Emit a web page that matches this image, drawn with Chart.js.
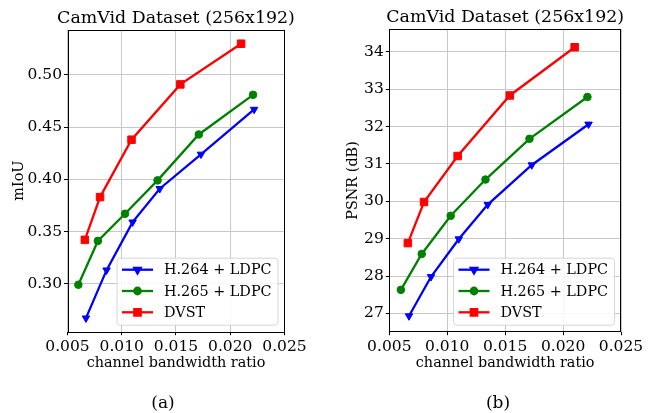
<!DOCTYPE html>
<html>
<head>
<meta charset="utf-8">
<script src="https://cdn.jsdelivr.net/npm/chart.js@4.4.1/dist/chart.umd.min.js"></script>
<style>
  body { margin: 0; background: #fff; }
  #page { position: relative; width: 649px; height: 413px; overflow: hidden; font-family: "DejaVu Serif", serif; }
  .panel { position: absolute; top: 0; height: 413px; }
  .cap { position: absolute; top: 391px; font-size: 17px; line-height: 22px; color: #000; transform: translateX(-50%); }
</style>
</head>
<body>
<div id="page">
  <div class="panel" style="left:0;width:325px"><canvas id="chartA"></canvas></div>
  <div class="panel" style="left:325px;width:324px"><canvas id="chartB"></canvas></div>
  <div class="cap" style="left:163px">(a)</div>
  <div class="cap" style="left:498px">(b)</div>
</div>
<script>
// channel bandwidth ratio (shared by both panels)
const h264Bw = [0.0067, 0.0086, 0.0110, 0.0135, 0.0173, 0.0222];
const h265Bw = [0.0060, 0.0078, 0.0103, 0.0133, 0.0171, 0.0221];
const dvstBw = [0.0066, 0.0080, 0.0109, 0.0154, 0.0210];

// (a) mIoU
const h264Miou = [0.267, 0.313, 0.359, 0.391, 0.424, 0.467];
const h265Miou = [0.299, 0.341, 0.367, 0.399, 0.443, 0.481];
const dvstMiou = [0.342, 0.383, 0.438, 0.491, 0.530];

// (b) PSNR (dB)
const h264Psnr = [26.93, 27.98, 28.99, 29.91, 30.97, 32.06];
const h265Psnr = [27.63, 28.59, 29.61, 30.58, 31.67, 32.79];
const dvstPsnr = [28.88, 29.98, 31.21, 32.83, 34.12];

const seriesLabels = ["H.264 + LDPC", "H.265 + LDPC", "DVST"];
const panelTitle = "CamVid Dataset (256x192)";
const FONT = "'DejaVu Serif', serif";

const toPoints = (xs, ys) => xs.map((x, i) => ({ x: x, y: ys[i] }));

// title centred over the plot (the built-in one squeezes text to the plot width)
const plotTitle = {
  id: "plotTitle",
  afterDraw(chart, args, opts) {
    const { left, right, top } = chart.chartArea;
    const ctx = chart.ctx;
    ctx.save();
    ctx.fillStyle = "#000";
    ctx.font = opts.size + "px " + FONT;
    ctx.textAlign = "center";
    ctx.textBaseline = "middle";
    ctx.fillText(opts.text, (left + right) / 2, top - opts.gap);
    ctx.restore();
  }
};

// box around the plot, matplotlib style
const frame = {
  id: "frame",
  afterDatasetsDraw(chart) {
    const { left, top, right, bottom } = chart.chartArea;
    const ctx = chart.ctx;
    ctx.save();
    ctx.strokeStyle = "#000";
    ctx.lineWidth = 1;
    ctx.strokeRect(Math.round(left) + 0.5, Math.round(top) + 0.5,
      Math.round(right - left) - 1, Math.round(bottom - top));
    ctx.restore();
  }
};

// legend inside the lower right corner of the plot
const boxLegend = {
  id: "boxLegend",
  afterDraw(chart, args, opts) {
    const ctx = chart.ctx;
    const { right, bottom } = chart.chartArea;
    const x0 = right - opts.offset - opts.width;
    const y0 = bottom - opts.offset - opts.height;
    ctx.save();
    ctx.beginPath();
    ctx.roundRect(x0 + 0.5, y0 + 0.5, opts.width, opts.height, 3);
    ctx.fillStyle = "rgba(255,255,255,0.85)";
    ctx.fill();
    ctx.strokeStyle = "#d6d6d6";
    ctx.lineWidth = 1;
    ctx.stroke();
    chart.data.datasets.forEach((ds, i) => {
      const y = y0 + 12 + i * 21.3;
      ctx.strokeStyle = ds.borderColor;
      ctx.lineWidth = ds.borderWidth;
      ctx.beginPath();
      ctx.moveTo(x0 + 5.5, y);
      ctx.lineTo(x0 + 36.5, y);
      ctx.stroke();
      ctx.fillStyle = ds.pointBackgroundColor;
      ctx.strokeStyle = ds.pointBackgroundColor;
      Chart.helpers.drawPoint(ctx, {
        pointStyle: ds.pointStyle,
        rotation: ds.pointRotation || 0,
        radius: ds.pointRadius * 0.85,
        borderWidth: 1
      }, x0 + 21, y);
      ctx.fillStyle = "#000";
      ctx.font = "14.4px " + FONT;
      ctx.textBaseline = "middle";
      ctx.textAlign = "left";
      ctx.fillText(ds.label, x0 + 47.5, y + 1);
    });
    ctx.restore();
  }
};

function makeSeries(label, color, style, radius, rotation, points) {
  return {
    label: label,
    data: points,
    showLine: true,
    borderColor: color,
    backgroundColor: color,
    pointBackgroundColor: color,
    pointBorderColor: color,
    borderWidth: 2.3,
    pointStyle: style,
    pointRadius: radius,
    pointRotation: rotation,
    pointBorderWidth: 1,
    tension: 0
  };
}

function createPanel(canvas, cfg) {
  return new Chart(canvas, {
    type: "scatter",
    data: {
      datasets: [
        makeSeries(seriesLabels[0], "#0000ff", "triangle", 4.3, 180, toPoints(h264Bw, cfg.h264)),
        makeSeries(seriesLabels[1], "#008000", "circle", 3.8, 0, toPoints(h265Bw, cfg.h265)),
        makeSeries(seriesLabels[2], "#ff0000", "rect", 5.3, 0, toPoints(dvstBw, cfg.dvst))
      ]
    },
    plugins: [frame, plotTitle, boxLegend],
    options: {
      responsive: true,
      maintainAspectRatio: false,
      animation: false,
      layout: {
        padding: { left: 0, top: cfg.padTop, right: cfg.padRight, bottom: 41.3 }
      },
      plugins: {
        legend: { display: false },
        tooltip: { enabled: false },
        title: { display: false },
        plotTitle: { text: panelTitle, size: 17.4, gap: 11.5 },
        boxLegend: { width: 161, height: 67, offset: 7 }
      },
      scales: {
        x: {
          type: "linear",
          min: 0.005,
          max: 0.025,
          afterFit: (scale) => { scale.height = 40; },
          ticks: {
            stepSize: 0.005,
            includeBounds: false,
            color: "#000",
            padding: 2,
            maxRotation: 0,
            font: { family: FONT, size: 15.5 },
            callback: (v) => v.toFixed(3)
          },
          grid: { color: "#c8c8c8", lineWidth: 1, tickColor: "#000", tickLength: 3.5 },
          border: { display: false },
          title: {
            display: true,
            text: "channel bandwidth ratio",
            color: "#000",
            font: { family: FONT, size: 14.4, lineHeight: 1.2 },
            padding: { top: 0, bottom: 0 }
          }
        },
        y: {
          type: "linear",
          min: cfg.yMin,
          max: cfg.yMax,
          afterFit: (scale) => { scale.width = cfg.axisWidth; },
          ticks: {
            stepSize: cfg.yStep,
            includeBounds: false,
            color: "#000",
            padding: 2,
            font: { family: FONT, size: 15.5 },
            callback: (v) => v.toFixed(cfg.yDigits)
          },
          grid: { color: "#c8c8c8", lineWidth: 1, tickColor: "#000", tickLength: 3.5 },
          border: { display: false },
          title: {
            display: true,
            text: cfg.yLabel,
            color: "#000",
            font: { family: FONT, size: 14.4, lineHeight: 1.2 },
            padding: { top: cfg.yTitlePad, bottom: 0 }
          }
        }
      }
    }
  });
}

createPanel(document.getElementById("chartA"), {
  h264: h264Miou, h265: h265Miou, dvst: dvstMiou,
  yMin: 0.254, yMax: 0.5436, yStep: 0.05, yDigits: 2,
  yLabel: "mIoU", axisWidth: 67.5, padRight: 40.5, padTop: 29.5, yTitlePad: 10.5
});

createPanel(document.getElementById("chartB"), {
  h264: h264Psnr, h265: h265Psnr, dvst: dvstPsnr,
  yMin: 26.51, yMax: 34.6, yStep: 1, yDigits: 0,
  yLabel: "PSNR (dB)", axisWidth: 64.3, padRight: 28, padTop: 29.3, yTitlePad: 20
});
</script>
</body>
</html>
